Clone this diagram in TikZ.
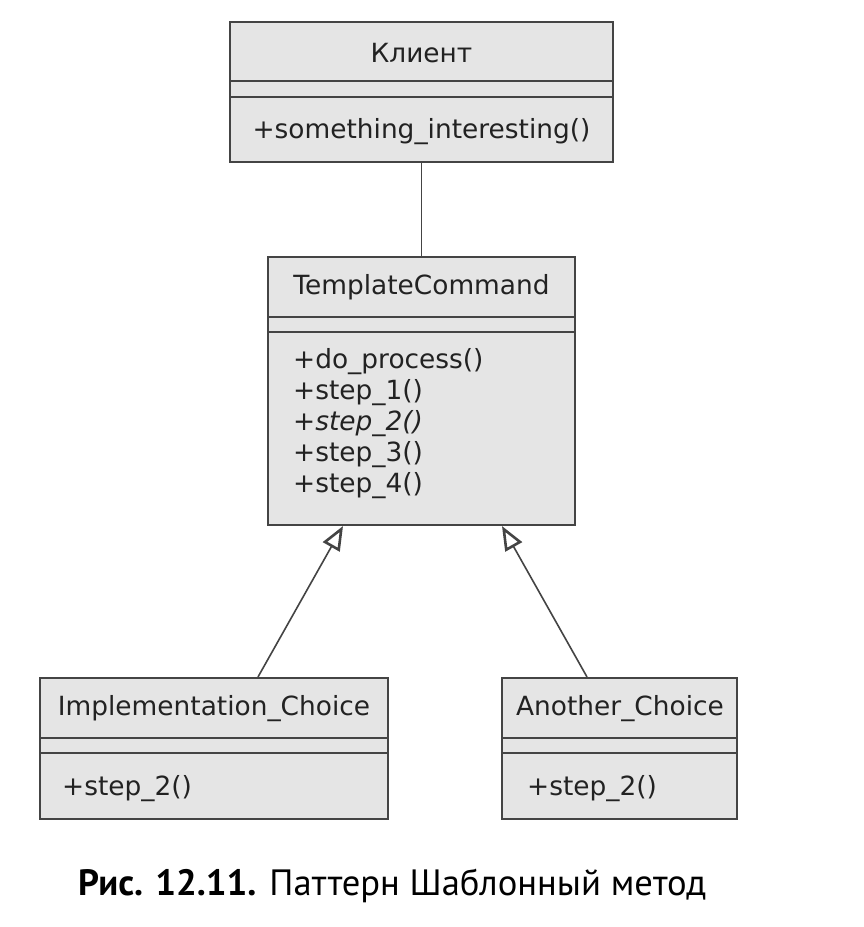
\documentclass[tikz,border=0pt]{standalone}
\usepackage{fontspec}
\setmainfont{DejaVu Sans}
\newfontfamily\capfont{PT Sans}
\usetikzlibrary{arrows.meta}
\definecolor{boxfill}{HTML}{E5E5E5}
\definecolor{boxline}{HTML}{444444}
\definecolor{ink}{HTML}{222222}
\begin{document}
\begin{tikzpicture}[x=1pt, y=-1pt,
    every node/.style={inner sep=0pt, text=ink, font=\fontsize{26.4}{31}\selectfont},
    cls/.style={draw=boxline, fill=boxfill, line width=2.1pt},
    sep/.style={draw=boxline, line width=1.8pt},
    link/.style={draw=boxline, line width=1.6pt},
    inherit/.style={link, -{Triangle[open, length=24pt, width=19pt, line width=2.6pt]}}]
    \useasboundingbox [fill=white] (0,0) rectangle (863,927) ;

    \node [cls, minimum width=383pt, minimum height=140pt] (client) at (421.5,92) {} ;
    \draw [sep] (230,81) -- ++(383,0) ;
    \draw [sep] (230,97) -- ++(383,0) ;
    \node [anchor=base] (clientname) at (421.5,62) {Клиент} ;
    \node [anchor=base] (clientop) at (421.5,138) {+something\_interesting()} ;

    \node [cls, minimum width=307pt, minimum height=268pt] (template) at (421.5,391) {} ;
    \draw [sep] (268,317) -- ++(307,0) ;
    \draw [sep] (268,332) -- ++(307,0) ;
    \node [anchor=base] (templatename) at (421.5,294) {TemplateCommand} ;
    \node [anchor=base west] (doprocess) at (293,368) {+do\_process()} ;
    \node [anchor=base west] (stepone) at (293,399) {+step\_1()} ;
    \node [anchor=base west] (steptwo) at (293,430) {\itshape +step\_2()} ;
    \node [anchor=base west] (stepthree) at (293,461) {+step\_3()} ;
    \node [anchor=base west] (stepfour) at (293,492) {+step\_4()} ;

    \node [cls, minimum width=348pt, minimum height=141pt] (impl) at (214,748.5) {} ;
    \draw [sep] (40,738) -- ++(348,0) ;
    \draw [sep] (40,753) -- ++(348,0) ;
    \node [anchor=base] (implname) at (214,715) {Implementation\_Choice} ;
    \node [anchor=base west] (implstep) at (62,795) {+step\_2()} ;

    \node [cls, minimum width=235pt, minimum height=141pt] (other) at (619.5,748.5) {} ;
    \draw [sep] (502,738) -- ++(235,0) ;
    \draw [sep] (502,753) -- ++(235,0) ;
    \node [anchor=base] (othername) at (620,715) {Another\_Choice} ;
    \node [anchor=base west] (otherstep) at (527,795) {+step\_2()} ;

    \draw [link] (client) -- (template) ;
    \draw [inherit] ([xshift=44pt]impl.north) -- ([xshift=-78.5pt]template.south) ;
    \draw [inherit] ([xshift=-32.5pt]other.north) -- ([xshift=80.5pt]template.south) ;

    \node [anchor=base west, text=black, font=\capfont\fontsize{36.6}{40}\selectfont] (caption) at (78,895) {\textbf{Рис. 12.11.} Паттерн Шаблонный метод} ;
\end{tikzpicture}
\end{document}
